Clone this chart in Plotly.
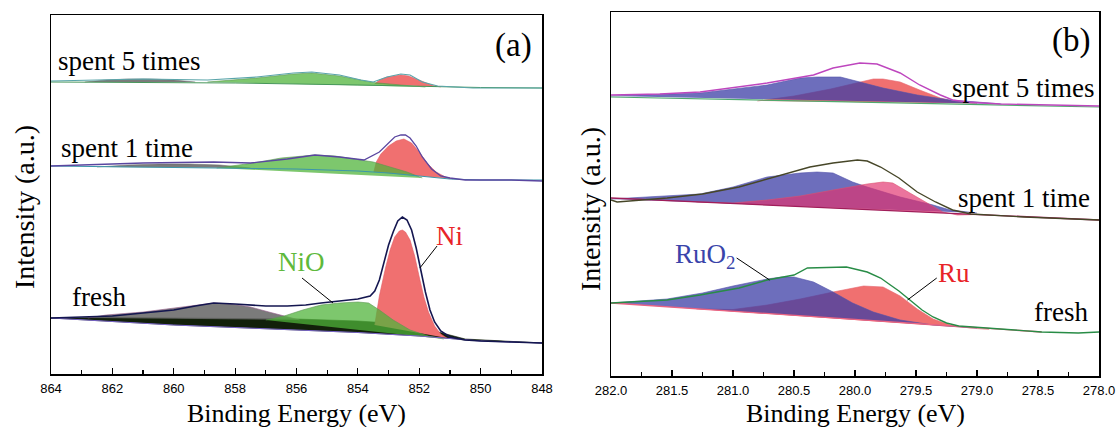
import plotly.graph_objects as go

# ---------------- Panel (a): Ni 2p3/2 ----------------
# fresh
a_fresh_env_E = [864.0, 863.0, 862.0, 861.0, 860.0, 859.3, 858.7, 858.0, 857.5, 857.0, 856.3, 855.7, 855.2, 854.6, 854.0,
                 853.6, 853.45, 853.3, 853.15, 853.0, 852.85, 852.7, 852.55, 852.4, 852.25, 852.1, 851.95, 851.8, 851.65,
                 851.5, 851.3, 851.0, 850.5, 850.0, 849.0, 848.0]
a_fresh_env_I = [56, 57, 58, 61, 64, 68, 71, 70, 69, 68, 68, 69, 71, 73, 75,
                 78, 83, 94, 112, 129, 142, 153, 157, 154, 144, 126, 104, 82, 64,
                 52, 43, 37, 34, 33, 32, 31]
a_fresh_shirley_E = [864, 862, 860, 858, 856, 854, 853, 852, 851.5, 851, 850.5]
a_fresh_shirley_I = [56, 56.5, 56, 55.5, 55, 53, 51, 47, 43, 39, 35]
a_fresh_lower_E = [864, 860, 858, 856, 854, 852, 851, 850.5, 850, 848]
a_fresh_lower_I = [56, 49, 46.5, 44, 41.5, 38, 35.5, 34, 33, 31]
a_fresh_sat_E = [862.8, 862.2, 861.0, 859.8, 858.7, 858.1, 857.5, 856.9, 856.3, 855.9]
a_fresh_sat_I = [56, 59, 62, 67, 71, 70, 67, 62, 57, 54]
a_fresh_nio_E = [857.0, 856.4, 855.8, 855.2, 854.6, 854.0, 853.65, 853.3, 852.85, 852.3, 851.7, 851.2]
a_fresh_nio_I = [54, 58, 64, 69, 71, 72, 71, 64, 54, 44, 38, 35]
a_fresh_ni_E = [853.45, 853.3, 853.1, 852.95, 852.8, 852.65, 852.55, 852.45, 852.3, 852.15, 852.0, 851.85, 851.7, 851.5, 851.3, 851.1]
a_fresh_ni_I = [49, 78, 106, 124, 137, 143, 144, 142, 134, 118, 97, 77, 62, 48, 40, 36]

# spent 1 time
a_s1_bg_E = [864, 860, 856, 854, 853, 852, 851, 850, 848]
a_s1_bg_I = [208, 206.5, 205, 203, 201, 198, 195, 194, 194]
a_s1_env_E = [864.0, 861.0, 858.7, 857.5, 856.3, 855.4, 854.6, 853.8, 853.3, 853.0, 852.8, 852.6, 852.45, 852.3, 852.1,
              851.9, 851.6, 851.3, 851.0, 850.5, 849.0, 848.0]
a_s1_env_I = [208, 211, 212, 211, 215, 219, 217, 214, 222, 231, 237, 239, 239, 236, 228,
              217, 205, 198, 196, 194, 194, 193]
a_s1_sat_E = [862.5, 861.5, 860.5, 859.5, 858.5, 857.5]
a_s1_sat_I = [207, 209, 210, 210, 209, 206]
a_s1_nio_E = [858.6, 857.4, 856.5, 855.9, 855.4, 854.75, 854.1, 853.5, 852.95, 852.4, 851.9]
a_s1_nio_I = [206, 211, 216, 218, 219, 218, 215, 212, 207, 202, 196]
a_s1_ni_E = [853.48, 853.4, 853.25, 853.0, 852.75, 852.5, 852.25, 852.0, 851.75, 851.45, 851.15, 850.9]
a_s1_ni_I = [202, 212, 220, 228, 233, 235, 231, 222, 211, 202, 197, 195]

# spent 5 times
a_s5_bg_E = [864, 858, 854, 852, 850, 848]
a_s5_bg_I = [292, 291, 289, 287.5, 286.5, 286]
a_s5_env_E = [864.0, 861.0, 858.9, 857.3, 856.1, 855.5, 854.6, 853.9, 853.5, 853.05, 852.6, 852.3, 851.9, 851.4, 850.25, 848.0]
a_s5_env_I = [293, 295, 294, 297, 301, 302, 299, 294, 292, 297, 300, 299, 292, 288, 286, 286]
a_s5_sat_E = [862.9, 862.2, 861.5, 860.8, 860.0, 859.3]
a_s5_sat_I = [292, 294, 295, 295, 294, 292]
a_s5_nio_E = [858.9, 857.3, 856.1, 855.5, 854.6, 853.9, 853.5, 852.6, 851.8]
a_s5_nio_I = [292, 296, 300, 301, 298, 294, 291.5, 289, 287]
a_s5_ni_E = [853.45, 853.3, 853.05, 852.8, 852.6, 852.35, 852.1, 851.85, 851.55, 851.3]
a_s5_ni_I = [290, 294, 297, 298.5, 299, 298, 295, 291.5, 288.5, 287]

# ---------------- Panel (b): Ru 3d5/2 ----------------
b_fresh_env_E = [282.0, 281.54, 281.27, 280.95, 280.72, 280.5, 280.39, 280.18, 280.07, 279.9, 279.79, 279.71, 279.64,
                 279.55, 279.45, 279.36, 279.25, 279.15, 278.9, 278.47, 278.17, 278.0]
b_fresh_env_I = [73, 76, 81, 88, 96, 101, 108, 109, 109, 104, 98, 91, 85,
                 76, 66, 59, 53, 50, 48, 44, 43, 44]
b_fresh_bg_E = [282.0, 278.47]
b_fresh_bg_I = [73, 44]
b_fresh_ruo2_E = [282.0, 281.54, 281.25, 281.0, 280.72, 280.6, 280.5, 280.34, 280.18, 280.02, 279.85, 279.63, 279.36, 279.0]
b_fresh_ruo2_I = [73, 77, 83, 90, 97, 99, 99, 94, 84, 73, 64, 56, 51, 48]
b_fresh_ru_E = [281.3, 281.0, 280.72, 280.45, 280.18, 280.02, 279.93, 279.77, 279.63, 279.49, 279.36, 279.22, 279.06, 278.9]
b_fresh_ru_I = [67, 66.5, 71, 77, 84, 88, 90, 89, 80, 67, 57, 51, 48, 46.5]

b_s1_env_E = [282.0, 281.95, 281.54, 281.25, 280.95, 280.72, 280.45, 280.37, 280.18, 280.07, 279.98, 279.9, 279.79,
              279.64, 279.49, 279.34, 279.2, 279.05, 278.61, 278.0]
b_s1_env_I = [176, 174, 178, 182, 189, 197, 206, 209, 213, 215, 216, 215, 209,
              198, 184, 174, 166, 162, 159, 156]
b_s1_bg_E = [282.0, 278.0]
b_s1_bg_I = [178, 156]
b_s1_ruo2_E = [282.0, 281.27, 281.0, 280.72, 280.45, 280.31, 280.18, 280.02, 279.9, 279.63, 279.36, 279.22, 279.0]
b_s1_ruo2_I = [177, 182, 189, 199, 203, 204, 203, 194, 189, 179, 171, 166, 163]
b_s1_ru_E = [281.3, 281.0, 280.72, 280.45, 280.18, 279.9, 279.77, 279.69, 279.55, 279.41, 279.28, 279.16, 279.0]
b_s1_ru_I = [174, 173, 176, 180, 186, 192, 194, 193, 183, 173, 164, 161, 161.5]

b_s5_env_E = [282.0, 281.6, 281.27, 280.72, 280.34, 280.18, 279.96, 279.82, 279.63, 279.47, 279.3, 279.2, 279.08, 278.81, 278.0]
b_s5_env_I = [281, 282, 284, 293, 301, 308, 313, 312, 303, 291, 281, 276, 274, 272, 270]
b_s5_bg_E = [282.0, 278.0]
b_s5_bg_I = [279, 269]
b_s5_ruo2_E = [282.0, 281.27, 280.72, 280.45, 280.31, 280.12, 279.96, 279.77, 279.49, 279.22, 279.0, 278.8]
b_s5_ruo2_I = [280, 283, 291, 298, 299, 299, 294, 288, 281, 276, 274, 272]
b_s5_ru_E = [280.8, 280.5, 280.2, 279.96, 279.85, 279.77, 279.63, 279.47, 279.3, 279.2, 279.0]
b_s5_ru_I = [275, 280, 287, 294, 297, 297, 294, 286, 278, 275, 272.5]

a_ticks = [864, 862, 860, 858, 856, 854, 852, 850, 848]
b_ticks = [282.0, 281.5, 281.0, 280.5, 280.0, 279.5, 279.0, 278.5, 278.0]

# ---------------- colours ----------------
RED_FILL = "rgb(240,112,112)"
GREEN_FILL = "rgba(80,180,58,0.74)"
GRAY_FILL = "rgba(100,100,100,0.85)"
DARK_FILL = "rgb(18,32,10)"
BLUE_FILL = "rgba(60,62,165,0.75)"
RED_FILL_T = "rgba(225,50,110,0.68)"

fig = go.Figure()


def poly(E, I, color, xa, ya, lw=0.6, lc=None):
    fig.add_trace(go.Scatter(x=E, y=I, mode="lines", fill="toself", fillcolor=color,
                             line=dict(color=lc or color, width=lw), xaxis=xa, yaxis=ya,
                             hoverinfo="skip", showlegend=False))


def line(E, I, color, xa, ya, w=1.4):
    fig.add_trace(go.Scatter(x=E, y=I, mode="lines", line=dict(color=color, width=w),
                             xaxis=xa, yaxis=ya, hoverinfo="skip", showlegend=False))


# panel a fresh
poly(a_fresh_shirley_E + a_fresh_lower_E[::-1], a_fresh_shirley_I + a_fresh_lower_I[::-1], DARK_FILL, "x", "y")
poly(a_fresh_ni_E, a_fresh_ni_I, RED_FILL, "x", "y", lc="rgb(225,90,100)")
poly(a_fresh_sat_E, a_fresh_sat_I, GRAY_FILL, "x", "y", lc="rgb(150,90,140)")
poly(a_fresh_nio_E, a_fresh_nio_I, GREEN_FILL, "x", "y", lc="rgb(90,150,80)")
line(a_fresh_lower_E, a_fresh_lower_I, "rgb(120,100,200)", "x", "y", 1.0)
line(a_fresh_env_E, a_fresh_env_I, "rgb(20,22,80)", "x", "y", 1.6)

# panel a spent 1
poly(a_s1_ni_E, a_s1_ni_I, RED_FILL, "x", "y", lc="rgb(225,90,100)")
poly(a_s1_sat_E, a_s1_sat_I, GRAY_FILL, "x", "y")
poly(a_s1_nio_E, a_s1_nio_I, GREEN_FILL, "x", "y", lc="rgb(90,150,80)")
line(a_s1_bg_E, a_s1_bg_I, "rgb(60,150,170)", "x", "y", 1.2)
line(a_s1_env_E, a_s1_env_I, "rgb(90,70,160)", "x", "y", 1.3)

# panel a spent 5
poly(a_s5_ni_E, a_s5_ni_I, RED_FILL, "x", "y", lc="rgb(225,90,100)")
poly(a_s5_sat_E, a_s5_sat_I, GRAY_FILL, "x", "y")
poly(a_s5_nio_E, a_s5_nio_I, GREEN_FILL, "x", "y", lc="rgb(90,150,80)")
line(a_s5_bg_E, a_s5_bg_I, "rgb(70,150,90)", "x", "y", 1.0)
line(a_s5_env_E, a_s5_env_I, "rgb(90,165,170)", "x", "y", 1.2)

# panel b fresh
poly(b_fresh_ru_E, b_fresh_ru_I, RED_FILL, "x2", "y2", lc="rgb(230,100,110)")
poly(b_fresh_ruo2_E, b_fresh_ruo2_I, BLUE_FILL, "x2", "y2", lc="rgb(80,80,170)")
line(b_fresh_bg_E, b_fresh_bg_I, "rgb(235,100,130)", "x2", "y2", 1.3)
line(b_fresh_env_E, b_fresh_env_I, "rgb(40,140,70)", "x2", "y2", 1.4)

# panel b spent 1
poly(b_s1_ruo2_E, b_s1_ruo2_I, BLUE_FILL, "x2", "y2", lc="rgb(80,80,170)")
poly(b_s1_ru_E, b_s1_ru_I, RED_FILL_T, "x2", "y2", lc="rgb(220,80,110)")
line(b_s1_bg_E, b_s1_bg_I, "rgb(160,30,90)", "x2", "y2", 1.3)
line(b_s1_env_E, b_s1_env_I, "rgb(70,70,40)", "x2", "y2", 1.4)

# panel b spent 5
poly(b_s5_ru_E, b_s5_ru_I, RED_FILL, "x2", "y2", lc="rgb(230,100,110)")
poly(b_s5_ruo2_E, b_s5_ruo2_I, BLUE_FILL, "x2", "y2", lc="rgb(80,80,170)")
line(b_s5_bg_E, b_s5_bg_I, "rgb(80,170,110)", "x2", "y2", 1.2)
line(b_s5_env_E, b_s5_env_I, "rgb(190,70,190)", "x2", "y2", 1.4)

W, H = 1118, 427
SERIF = "Liberation Serif, Times New Roman, serif"
SANS = "Liberation Sans, Arial, sans-serif"

axis_common = dict(showgrid=False, zeroline=False, showline=True, linecolor="black", linewidth=1.5,
                   mirror=True, ticks="inside", ticklen=6, tickwidth=1.2, tickcolor="black",
                   ticklabelstandoff=2,
                   tickfont=dict(family=SANS, size=13, color="black"))
yaxis_common = dict(showgrid=False, zeroline=False, showline=True, linecolor="black", linewidth=1.5,
                    mirror=True, ticks="", showticklabels=False)

fig.update_layout(
    width=W, height=H, margin=dict(l=0, r=0, t=0, b=0, autoexpand=False), autosize=False,
    paper_bgcolor="white", plot_bgcolor="white", showlegend=False,
    xaxis=dict(domain=[51 / W, 542 / W], range=[864, 848], tickmode="array", tickvals=a_ticks,
               ticktext=[str(t) for t in a_ticks],
               minor=dict(dtick=1, tick0=848, ticks="inside", ticklen=4, tickwidth=1.2, tickcolor="black"),
               anchor="y", **axis_common),
    yaxis=dict(domain=[1 - 374 / H, 1 - 15 / H], range=[0, 359], anchor="x", **yaxis_common),
    xaxis2=dict(domain=[611 / W, 1099 / W], range=[282, 278], tickmode="array", tickvals=b_ticks,
                ticktext=[f"{t:.1f}" for t in b_ticks],
                minor=dict(dtick=0.25, tick0=278, ticks="inside", ticklen=4, tickwidth=1.2, tickcolor="black"),
                anchor="y2", **axis_common),
    yaxis2=dict(domain=[1 - 376 / H, 1 - 12 / H], range=[0, 364], anchor="x2", **yaxis_common),
)


def txt(text, px, py, size=27, color="black", xanchor="center", angle=0):
    fig.add_annotation(text=text, x=px / W, y=1 - py / H, xref="paper", yref="paper", showarrow=False,
                       xanchor=xanchor, yanchor="middle", textangle=angle,
                       font=dict(family=SERIF, size=size, color=color))


# panel labels and series names
txt("spent 5 times", 56, 61, xanchor="left")
txt("spent 1 time", 59, 148, xanchor="left")
txt("fresh", 70, 297, xanchor="left")
txt("(a)", 513, 45, size=33)
txt("NiO", 301, 262, color="rgb(95,185,60)")
txt("Ni", 449, 236, color="rgb(232,35,40)")
txt("spent 5 times", 1097, 88, xanchor="right")
txt("spent 1 time", 1092, 198, xanchor="right")
txt("fresh", 1090, 312, xanchor="right")
txt("(b)", 1071, 40, size=33)
txt("RuO<sub>2</sub>", 673, 256, color="rgb(58,68,170)", xanchor="left")
txt("Ru", 954, 273, color="rgb(232,35,40)")
# axis titles
txt("Binding Energy (eV)", 296, 413, size=26)
txt("Binding Energy (eV)", 855, 413, size=26)
txt("Intensity (a.u.)", 24, 207, size=28, angle=-90)
txt("Intensity (a.u.)", 590, 209, size=28, angle=-90)

# leader lines (data coordinates)
for xr, yr, x0, y0, x1, y1 in [("x", "y", 855.82, 96, 854.81, 71),
                               ("x", "y", 851.42, 128, 851.98, 106),
                               ("x2", "y2", 280.97, 118, 280.70, 96),
                               ("x2", "y2", 279.33, 98, 279.57, 76)]:
    fig.add_shape(type="line", xref=xr, yref=yr, x0=x0, y0=y0, x1=x1, y1=y1,
                  line=dict(color="black", width=1))

fig.write_html("out.html",
               config={"responsive": False, "displayModeBar": False, "staticPlot": True},
               post_script="document.documentElement.style.margin='0';document.body.style.margin='0';"
                           "document.body.style.padding='0';document.body.style.overflow='hidden';")
